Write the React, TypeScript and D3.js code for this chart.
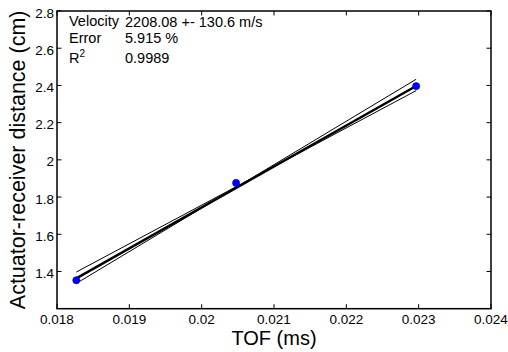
import * as d3 from 'd3'

// measured TOF (ms) vs actuator-receiver distance (cm)
const tofData = [0.018267, 0.020476, 0.022965]
const distData = [1.353, 1.876, 2.396]

// least-squares fit and the two slope-bound lines, as end points [x, y]
const fitLine: [number, number][] = [[0.018267, 1.363], [0.022965, 2.397]]
const upperLine: [number, number][] = [[0.018267, 1.336], [0.022965, 2.433]]
const lowerLine: [number, number][] = [[0.018267, 1.397], [0.022965, 2.372]]

const xTicks = [0.018, 0.019, 0.02, 0.021, 0.022, 0.023, 0.024]
const yTicks = [1.4, 1.6, 1.8, 2, 2.2, 2.4, 2.6, 2.8]

const statLabels = ['Velocity', 'Error', 'R']
const statValues = ['2208.08 +- 130.6 m/s', '5.915 %', '0.9989']

const FONT = '"Liberation Sans", Arial, Helvetica, sans-serif'

export default function App() {
  const W = 508
  const H = 352
  const m = { left: 57, top: 11, right: 491, bottom: 308.7 }

  const x = d3.scaleLinear().domain([0.018, 0.024]).range([m.left, m.right])
  const y = d3.scaleLinear().domain([1.2, 2.8]).range([m.bottom, m.top])

  const line = d3.line<[number, number]>().x(d => x(d[0])).y(d => y(d[1]))
  const fmt = (v: number) => String(+v.toFixed(3))

  const rowY = [26, 43, 63]

  return (
    <svg width={W} height={H} style={{ position: 'absolute', left: 0, top: 0, background: '#fff' }} fontFamily={FONT}>
      <rect x={0} y={0} width={W} height={H} fill="#fff" />

      {/* fit lines */}
      <path d={line(upperLine) ?? ''} fill="none" stroke="#000" strokeWidth={1} />
      <path d={line(lowerLine) ?? ''} fill="none" stroke="#000" strokeWidth={1} />
      <path d={line(fitLine) ?? ''} fill="none" stroke="#000" strokeWidth={2.4} />

      {/* data points */}
      {tofData.map((t, i) => (
        <circle key={i} cx={x(t)} cy={y(distData[i])} r={3.6} fill="#0000ff" stroke="#0000c8" strokeWidth={0.6} />
      ))}

      {/* box */}
      <rect x={m.left} y={m.top} width={m.right - m.left} height={m.bottom - m.top} fill="none" stroke="#000" strokeWidth={1.5} />

      {/* x ticks */}
      {xTicks.map(t => (
        <g key={t}>
          <line x1={x(t)} x2={x(t)} y1={m.bottom} y2={m.bottom - 4.5} stroke="#000" strokeWidth={1} />
          <line x1={x(t)} x2={x(t)} y1={m.top} y2={m.top + 4.5} stroke="#000" strokeWidth={1} />
          <text x={x(t)} y={m.bottom + 14.8} textAnchor="middle" fontSize={13.5} fill="#000">{fmt(t)}</text>
        </g>
      ))}

      {/* y ticks */}
      {yTicks.map(t => (
        <g key={t}>
          <line x1={m.left} x2={m.left + 4.5} y1={y(t)} y2={y(t)} stroke="#000" strokeWidth={1} />
          <line x1={m.right} x2={m.right - 4.5} y1={y(t)} y2={y(t)} stroke="#000" strokeWidth={1} />
          <text x={m.left - 3} y={y(t) + 6.5} textAnchor="end" fontSize={13.5} fill="#000">{fmt(t)}</text>
        </g>
      ))}

      {/* axis labels */}
      <text x={(m.left + m.right) / 2} y={345} textAnchor="middle" fontSize={20} fill="#000">TOF (ms)</text>
      <text transform={`translate(25,${(m.top + m.bottom) / 2}) rotate(-90)`} textAnchor="middle" fontSize={21.5} fill="#000">
        Actuator-receiver distance (cm)
      </text>

      {/* fit statistics */}
      {statLabels.map((s, i) => (
        <text key={s} x={69} y={rowY[i]} fontSize={14.5} fill="#000">
          {s}
          {s === 'R' && <tspan fontSize={10} dy={-6}>2</tspan>}
        </text>
      ))}
      {statValues.map((s, i) => (
        <text key={s} x={125} y={rowY[i] + (i === 0 ? 1.2 : 0)} fontSize={14.5} fill="#000">{s}</text>
      ))}
    </svg>
  )
}
